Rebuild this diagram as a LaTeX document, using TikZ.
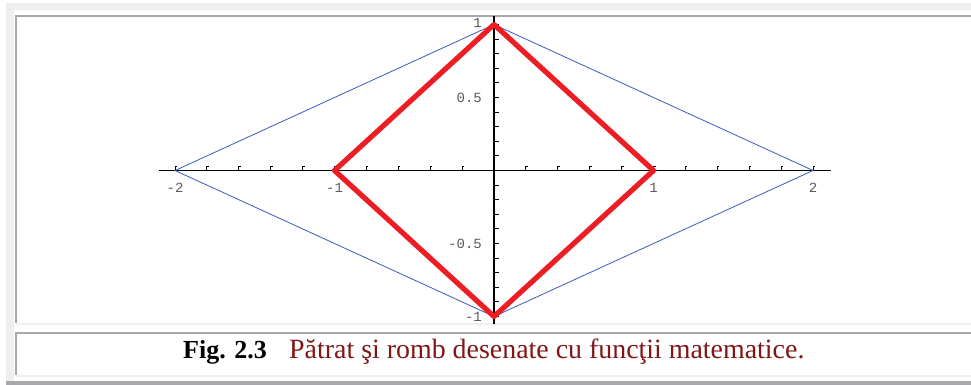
\documentclass[tikz,border=0pt]{standalone}
\usepackage{fontspec}
\setmainfont{Liberation Serif}
\newfontfamily\plotmono{Liberation Mono}
\definecolor{lightband}{RGB}{238,239,241}
\definecolor{frameline}{RGB}{168,168,172}
\definecolor{capred}{RGB}{128,22,22}
\definecolor{rhombblue}{RGB}{60,90,190}
\definecolor{squarered}{RGB}{236,30,36}
\definecolor{lblgray}{RGB}{90,90,90}
\begin{document}
\begin{tikzpicture}[x=1pt,y=-1pt,
  lbl/.style={font=\plotmono\fontsize{14}{16}\selectfont, text=lblgray, inner sep=0pt},
  axisline/.style={black, line width=1.3pt},
  tickmark/.style={black, line width=0.9pt},
  rhomb/.style={rhombblue, line width=0.8pt, line join=round},
  squareline/.style={squarered, line width=5.2pt, line join=round, line cap=round},
  captext/.style={inner sep=0pt, anchor=base west, font=\fontsize{26}{30}\selectfont}]
\useasboundingbox (0,0) rectangle (971,385);
\fill[white] (0,0) rectangle (971,385);
% frame
\fill[lightband] (6,3) rectangle (971,10.5);
\fill[lightband] (6,3) rectangle (14,381);
\draw[frameline, line width=2pt] (15,16.5) -- (971,16.5);
\draw[frameline, line width=2pt] (15.5,16) -- (15.5,323);
\draw[lightband, line width=2pt] (16,323.5) -- (971,323.5);
\draw[frameline, line width=2pt] (15,332.5) -- (971,332.5);
\draw[frameline, line width=2pt] (15.5,332) -- (15.5,375);
\draw[lightband, line width=2pt] (16,376) -- (971,376);
\fill[frameline] (6,381) rectangle (971,385);
% caption
\node[captext] (figlbl) at (183,358) {\bfseries Fig. 2.3};
\node[captext, text=capred, font=\fontsize{27.9}{32}\selectfont] (captxt) at (289,358) {Pătrat şi romb desenate cu funcţii matematice.};
% plot
\begin{scope}[x=159.5pt, y=146pt, shift={(494pt,-170.5pt)}]
  \coordinate (L2) at (-2,0);
  \coordinate (R2) at (2,0);
  \coordinate (L1) at (-1,0);
  \coordinate (R1) at (1,0);
  \coordinate (T) at (0,1);
  \coordinate (B) at (0,-1);
  \coordinate (xa) at (-2.1,0);
  \coordinate (xb) at (2.11,0);
  \coordinate (ya) at (0,-1.05);
  \coordinate (yb) at (0,1.055);
  % axes
  \draw[axisline] (xa) -- (xb);
  \draw[axisline] (ya) -- (yb);
  \foreach \u in {-2,-1.8,-1.6,-1.4,-1.2,-1,-0.8,-0.6,-0.4,-0.2,0.2,0.4,0.6,0.8,1,1.2,1.4,1.6,1.8,2}
    \draw[tickmark] (\u,0) -- ++(0,4pt) -- ++(2pt,0);
  \foreach \v in {-1,-0.9,-0.8,-0.7,-0.6,-0.5,-0.4,-0.3,-0.2,-0.1,0.1,0.2,0.3,0.4,0.5,0.6,0.7,0.8,0.9,1}
    \draw[tickmark] (0,\v) -- ++(5pt,0);
  % labels
  \node[lbl, yshift=-17.5pt] (lxm2) at (-2,0) {-2};
  \node[lbl, yshift=-17.5pt] (lxm1) at (-1,0) {-1};
  \node[lbl, yshift=-17.5pt] (lx1) at (1,0) {1};
  \node[lbl, yshift=-17.5pt] (lx2) at (2,0) {2};
  \node[lbl, anchor=east, xshift=-12pt, yshift=2pt] (ly1) at (0,1) {1};
  \node[lbl, anchor=east, xshift=-12pt] (ly05) at (0,0.5) {0.5};
  \node[lbl, anchor=east, xshift=-12pt] (lym05) at (0,-0.5) {-0.5};
  \node[lbl, anchor=east, xshift=-12pt] (lym1) at (0,-1) {-1};
  % rhombus
  \draw[rhomb] (L2) -- (T) -- (R2) -- (B) -- cycle;
  % square
  \draw[squareline] (L1) -- (T) -- (R1) -- (B) -- cycle;
\end{scope}
\end{tikzpicture}
\end{document}
